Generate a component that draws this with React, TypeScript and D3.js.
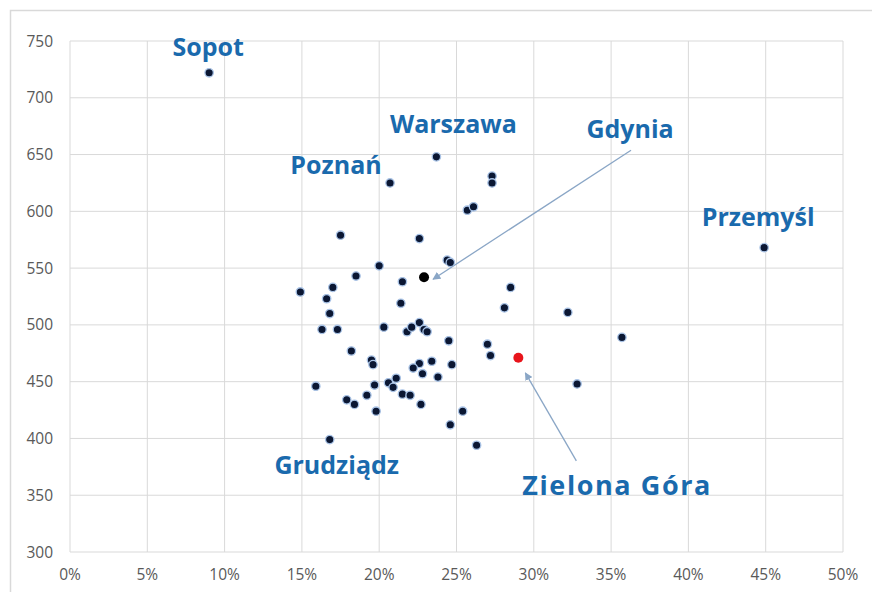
import React from "react";
import * as d3 from "d3";

// share (%) vs value, one entry per city
const SHARE = [
  9.0, 44.9, 23.7, 20.7, 22.9, 16.8, 29.0,
  27.3, 27.3, 25.7, 26.1, 17.5, 22.6, 24.4, 24.6, 20.0, 18.5, 21.5, 17.0, 14.9,
  28.5, 16.6, 21.4, 16.8, 28.1, 32.2, 16.3, 17.3, 20.3, 21.8, 22.1, 22.6, 22.9,
  23.1, 24.5, 27.0, 35.7, 27.2, 18.2, 19.5, 19.6, 22.6, 23.4, 22.2, 22.8, 24.7,
  23.8, 15.9, 19.7, 21.1, 20.6, 20.9, 32.8, 19.2, 21.5, 22.0, 17.9, 18.4, 22.7,
  19.8, 25.4, 24.6, 26.3,
];
const VALUE = [
  722, 568, 648, 625, 542, 399, 471,
  631, 625, 601, 604, 579, 576, 557, 555, 552, 543, 538, 533, 529,
  533, 523, 519, 510, 515, 511, 496, 496, 498, 494, 498, 502, 496,
  494, 486, 483, 489, 473, 477, 469, 465, 466, 468, 462, 457, 465,
  454, 446, 447, 453, 449, 445, 448, 438, 439, 438, 434, 430, 430,
  424, 424, 412, 394,
];
const NAMES = ["Sopot", "Przemyśl", "Warszawa", "Poznań", "Gdynia", "Grudziądz", "Zielona Góra"];

const X_TICKS = [0, 5, 10, 15, 20, 25, 30, 35, 40, 45, 50];
const Y_TICKS = [300, 350, 400, 450, 500, 550, 600, 650, 700, 750];

// label placement relative to the point (px), arrows for two of them
const LABEL_LAYOUT: Record<string, { dx: number; dy: number; size?: number; len?: number; arrow?: [number, number, number, number] }> = {
  Sopot: { dx: -1, dy: -17 },
  "Przemyśl": { dx: -6, dy: -22 },
  Warszawa: { dx: 17, dy: -24 },
  "Poznań": { dx: -54, dy: -9 },
  Gdynia: { dx: 206, dy: -139, arrow: [207, -127, 9, 2] },
  "Grudziądz": { dx: 7, dy: 34 },
  "Zielona Góra": { dx: 98, dy: 137, size: 27, len: 188, arrow: [58, 103, 7, 15] },
};

const W = 872;
const H = 592;
const plot = { left: 70, right: 843, top: 41, bottom: 552 };

const LABEL_BLUE = "#1a6aad";
const ARROW = "#8aa6c6";
const GRID = "#d9d9d9";

export default function App() {
  const x = d3.scaleLinear().domain([0, 50]).range([plot.left, plot.right]);
  const y = d3.scaleLinear().domain([300, 750]).range([plot.bottom, plot.top]);

  const points = SHARE.map((s, i) => ({ s, v: VALUE[i], name: i < NAMES.length ? NAMES[i] : null }));

  return (
    <div style={{ position: "absolute", left: 0, top: 0 }}>
      <svg width={W} height={H} style={{ display: "block", background: "#fff" }}>
        <defs>
          <marker id="arrowhead" viewBox="0 0 10 10" refX="9" refY="5" markerWidth="8" markerHeight="8"
            markerUnits="userSpaceOnUse" orient="auto">
            <path d="M0,0 L10,5 L0,10 z" fill={ARROW} />
          </marker>
        </defs>
        {/* outer chart frame */}
        <rect x={10.5} y={10.5} width={W + 20} height={H + 20} fill="none" stroke="#d9d9d9" strokeWidth={1.5} />

        {/* grid */}
        {Y_TICKS.map((t) => (
          <line key={`gy${t}`} x1={plot.left} x2={plot.right} y1={y(t)} y2={y(t)} stroke={GRID} strokeWidth={1} />
        ))}
        {X_TICKS.map((t) => (
          <line key={`gx${t}`} x1={x(t)} x2={x(t)} y1={plot.top} y2={plot.bottom} stroke={GRID} strokeWidth={1} />
        ))}

        {/* tick labels */}
        {Y_TICKS.map((t) => (
          <text key={`ly${t}`} x={53} y={y(t)} dy="0.36em" textAnchor="end"
            style={{ fontFamily: "'Open Sans', sans-serif", fontSize: 15.5, fill: "#595959" }}>
            {t}
          </text>
        ))}
        {X_TICKS.map((t) => (
          <text key={`lx${t}`} x={x(t)} y={580} textAnchor="middle"
            style={{ fontFamily: "'Open Sans', sans-serif", fontSize: 15.5, fill: "#595959" }}>
            {`${t}%`}
          </text>
        ))}

        {/* arrows */}
        {points.filter((p) => p.name && LABEL_LAYOUT[p.name].arrow).map((p) => {
          const [tx, ty, hx, hy] = LABEL_LAYOUT[p.name!].arrow!;
          const px = x(p.s), py = y(p.v);
          return (
            <line key={`ar${p.name}`} x1={px + tx} y1={py + ty} x2={px + hx} y2={py + hy}
              stroke={ARROW} strokeWidth={1.3} markerEnd="url(#arrowhead)" />
          );
        })}

        {/* points */}
        {points.map((p, i) => {
          const special = p.name === "Gdynia" ? "#000" : p.name === "Zielona Góra" ? "#e8141b" : null;
          return (
            <circle key={`p${i}`} cx={x(p.s)} cy={y(p.v)} r={special ? 5 : 4.2}
              fill={special ?? "#0b1733"} stroke={special ? "none" : "#a9c3e6"} strokeWidth={1.3} />
          );
        })}

        {/* city labels */}
        {points.filter((p) => p.name).map((p) => {
          const l = LABEL_LAYOUT[p.name!];
          return (
            <text key={`n${p.name}`} x={x(p.s) + l.dx} y={y(p.v) + l.dy} textAnchor="middle"
              textLength={l.len} lengthAdjust={l.len ? "spacing" : undefined}
              style={{ fontFamily: "'Open Sans', sans-serif", fontWeight: 700, fontSize: l.size ?? 25, fill: LABEL_BLUE }}>
              {p.name}
            </text>
          );
        })}
      </svg>
    </div>
  );
}
